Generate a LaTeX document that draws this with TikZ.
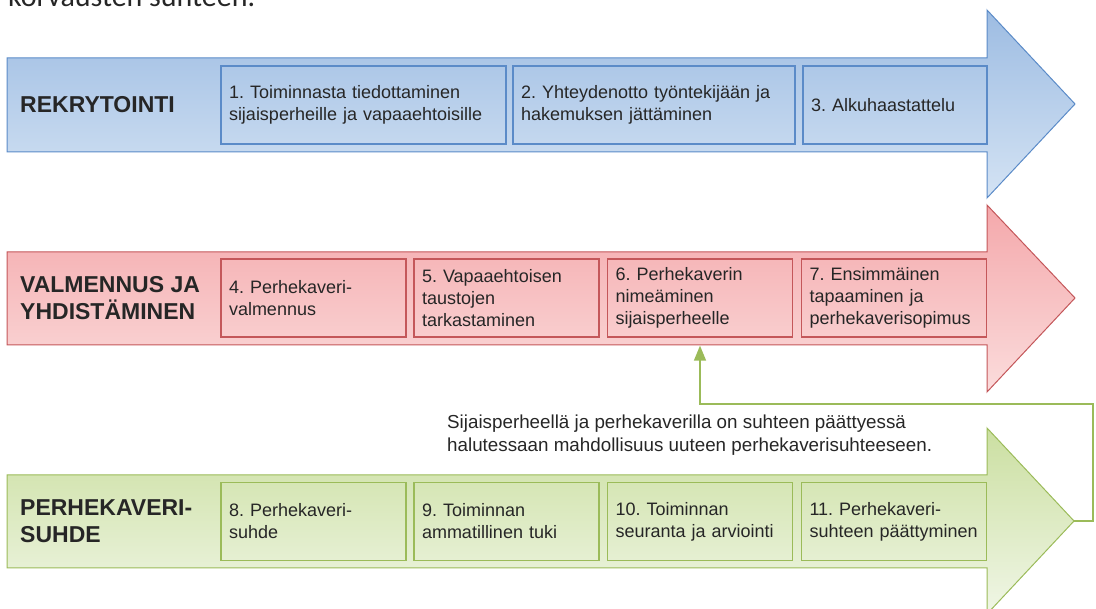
\documentclass[tikz,border=0pt]{standalone}
\usepackage{fontspec}
\setmainfont{Liberation Sans}
\newfontfamily\captfont{Carlito}
\usetikzlibrary{arrows.meta}
\frenchspacing

\definecolor{txt}{HTML}{262626}
\definecolor{bluetop}{HTML}{9DBCE2}
\definecolor{bluebot}{HTML}{D4E3F4}
\definecolor{blueline}{HTML}{5B8BC8}
\definecolor{redtop}{HTML}{F4A8AB}
\definecolor{redbot}{HTML}{FBDCDC}
\definecolor{redline}{HTML}{C4575A}
\definecolor{greentop}{HTML}{CBDFA1}
\definecolor{greenbot}{HTML}{F0F6E6}
\definecolor{greenline}{HTML}{9BBB59}

\begin{document}
\begin{tikzpicture}
[x=1pt,y=-1pt,
 stepbox/.style={rectangle,draw,line width=1.3pt,inner xsep=8pt,inner ysep=0pt,minimum height=78pt,align=left,text=txt,font=\fontsize{18}{22}\selectfont},
 phase/.style={anchor=west,inner sep=0pt,align=left,text=txt,font=\fontsize{23}{27}\selectfont\bfseries},
 feedback/.style={draw=greenline,line width=1.5pt,-{Triangle[length=15pt,width=12pt]}}]
\useasboundingbox (0,0) rectangle (1096,609);

% cut caption at the top
\node[anchor=base west,inner sep=0pt,text=txt,font=\captfont\fontsize{30}{34}\selectfont] (capt) at (8,7) {korvausten suhteen.};

% the three arrows
\shade[top color=bluetop,bottom color=bluebot,draw=blueline,line width=1pt]
 (7,58) -- (987,58) -- (987,10) -- (1075,104) -- (987,198) -- (987,152) -- (7,152) -- cycle;
\shade[top color=redtop,bottom color=redbot,draw=redline,line width=1pt]
 (7,252) -- (987,252) -- (987,205) -- (1075,298) -- (987,392) -- (987,345) -- (7,345) -- cycle;
\shade[top color=greentop,bottom color=greenbot,draw=greenline,line width=1pt]
 (7,475) -- (987,475) -- (987,428) -- (1074,521) -- (987,614) -- (987,568) -- (7,568) -- cycle;
\coordinate (gtip) at (1074,521);

% REKRYTOINTI
\node[phase] (p1) at (20,105) {REKRYTOINTI};
\node[stepbox,draw=blueline,minimum width=285pt,text width=269pt] (n1) at (363.5,105) {1. Toiminnasta tiedottaminen\\sijaisperheille ja vapaaehtoisille};
\node[stepbox,draw=blueline,minimum width=282pt,text width=266pt] (n2) at (654,105) {2. Yhteydenotto työntekijään ja\\hakemuksen jättäminen};
\node[stepbox,draw=blueline,minimum width=184pt,text width=168pt] (n3) at (895,105) {3. Alkuhaastattelu};

% VALMENNUS JA YHDISTAMINEN
\node[phase] (p2) at (20,298.5) {VALMENNUS JA\\YHDISTÄMINEN};
\node[stepbox,draw=redline,minimum width=185pt,text width=169pt] (n4) at (313.5,298) {4. Perhekaveri-\\valmennus};
\node[stepbox,draw=redline,minimum width=185pt,text width=169pt] (n5) at (506.5,298) {5. Vapaaehtoisen\\taustojen\\tarkastaminen};
\node[stepbox,draw=redline,minimum width=185pt,text width=169pt] (n6) at (700,298) {6. Perhekaverin\\nimeäminen\\sijaisperheelle};
\node[stepbox,draw=redline,minimum width=185pt,text width=169pt] (n7) at (894,298) {7. Ensimmäinen\\tapaaminen ja\\perhekaverisopimus};

% PERHEKAVERISUHDE
\node[phase] (p3) at (20,521.5) {PERHEKAVERI-\\SUHDE};
\node[stepbox,draw=greenline,minimum width=185pt,text width=169pt] (n8) at (313.5,521.5) {8. Perhekaveri-\\suhde};
\node[stepbox,draw=greenline,minimum width=185pt,text width=169pt] (n9) at (506.5,521.5) {9. Toiminnan\\ammatillinen tuki};
\node[stepbox,draw=greenline,minimum width=185pt,text width=169pt] (n10) at (700,521.5) {10. Toiminnan\\seuranta ja arviointi};
\node[stepbox,draw=greenline,minimum width=185pt,text width=169pt] (n11) at (894,521.5) {11. Perhekaveri-\\suhteen päättyminen};

% back to step 6
\node[anchor=north west,inner sep=0pt,align=left,text=txt,font=\fontsize{18.8}{22.5}\selectfont] (note) at (447,415) {Sijaisperheellä ja perhekaverilla on suhteen päättyessä\\halutessaan mahdollisuus uuteen perhekaverisuhteeseen.};
\draw[feedback] (gtip) -- ++(19,0) -- ++(0,-117) -| ([yshift=-8pt]n6.south);
\end{tikzpicture}
\end{document}
